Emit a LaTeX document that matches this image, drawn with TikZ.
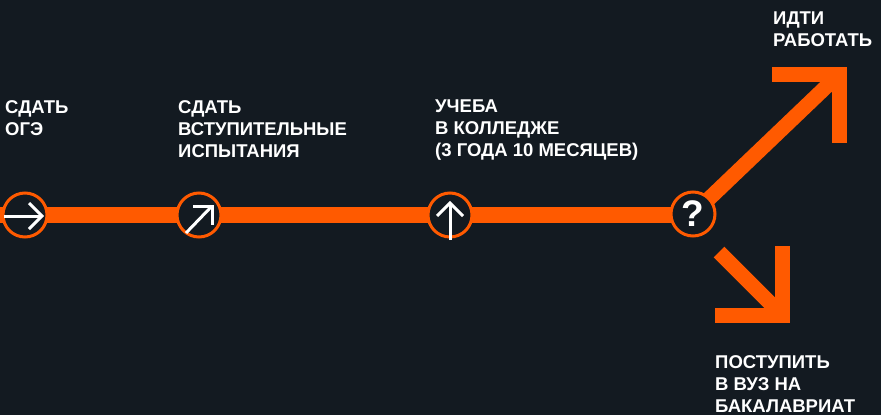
\documentclass[tikz,border=0pt]{standalone}
\usepackage{fontspec}
\setmainfont{Liberation Sans}
\usetikzlibrary{calc}
\definecolor{bg}{HTML}{131A21}
\definecolor{org}{HTML}{FF5A00}
\begin{document}
\begin{tikzpicture}[x=1pt,y=-1pt,
  lbl/.style={text=white,font=\bfseries\fontsize{18.5}{22}\selectfont,align=left,anchor=north west,inner sep=0pt},
  stop/.style={circle,draw=org,line width=3pt,fill=bg,minimum size=44pt,inner sep=0pt},
  icon/.style={draw=white,line width=3pt},
  big/.style={draw=org,line width=15pt,line join=miter}]
\useasboundingbox[fill=bg] (0,0) rectangle (881,415);
\coordinate (start) at (-5,215);
\coordinate (s1) at (25,215);
\coordinate (s2) at (199,215);
\coordinate (s3) at (450,215);
\coordinate (s4) at (693,214);
% main line
\draw[org,line width=16pt] (start) -- (s1) -- (s2) -- (s3) -- (s4 |- s3);
% upper arrow
\coordinate (uc) at (839.5,74);
\coordinate (uh) at (772,74);
\coordinate (uv) at (839.5,143);
\draw[big] (uh) -- (uc) -- (uv);
\draw[big] (s4) -- (uc);
% lower arrow
\coordinate (ls) at (719,252);
\coordinate (lc) at (782.5,315.5);
\coordinate (lh) at (715,315.5);
\coordinate (lv) at (782.5,246);
\draw[big] (lh) -- (lc) -- (lv);
\draw[big] (ls) -- (lc);
% stops
\node[stop] (t1) at (s1) {};
\node[stop] (t2) at (s2) {};
\node[stop] (t3) at (s3) {};
\node[stop,text=white,font=\bfseries\fontsize{37}{37}\selectfont] (t4) at (s4) {?};
% icons
\coordinate (a1s) at (4,216);
\coordinate (a1t) at (42,216);
\draw[icon] (a1s) -- (a1t);
\draw[icon,line join=miter] ($(a1t)+(-13,-13)$) -- (a1t) -- ($(a1t)+(-13,13)$);
\coordinate (a2s) at (186,233);
\coordinate (a2t) at (212,206);
\draw[icon] (a2s) -- (a2t);
\draw[icon,line join=miter] ($(a2t)+(-19,0)$) -- (a2t) -- ($(a2t)+(0,19)$);
\coordinate (a3s) at (450,240);
\coordinate (a3t) at (450,203);
\draw[icon] (a3s) -- (a3t);
\draw[icon,line join=miter] ($(a3t)+(-13,13)$) -- (a3t) -- ($(a3t)+(13,13)$);
% labels
\node[lbl] (l1) at (5,100) {СДАТЬ\\ОГЭ};
\node[lbl] (l2) at (178,100) {СДАТЬ\\ВСТУПИТЕЛЬНЫЕ\\ИСПЫТАНИЯ};
\node[lbl] (l3) at (435,100) {УЧЕБА\\В КОЛЛЕДЖЕ\\(3 ГОДА 10 МЕСЯЦЕВ)};
\node[lbl] (l4) at (773,12) {ИДТИ\\РАБОТАТЬ};
\node[lbl] (l5) at (715,355) {ПОСТУПИТЬ\\В ВУЗ НА\\БАКАЛАВРИАТ};
\end{tikzpicture}
\end{document}
